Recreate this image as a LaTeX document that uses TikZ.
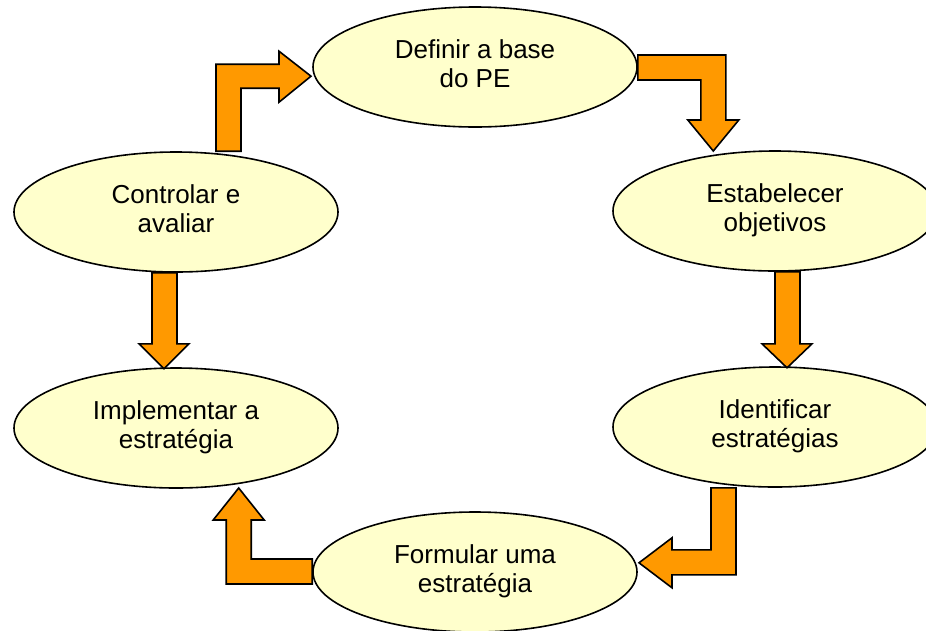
\documentclass[tikz,border=0pt]{standalone}
\usepackage{fontspec}
\setmainfont{Liberation Sans}
\usetikzlibrary{shapes.geometric,calc}
\definecolor{stagefill}{HTML}{FFFFCC}
\definecolor{flowfill}{HTML}{FF9900}
% uniform depth for the last line of every stage label
\newcommand\lastline{\rule[-7pt]{0pt}{0pt}}
\begin{document}
\begin{tikzpicture}[x=1pt,y=-1pt,
  stage/.style={ellipse, draw=black, line width=1.6pt, fill=stagefill,
    minimum width=324pt, minimum height=120pt, inner sep=0pt, align=center,
    font=\fontsize{26}{29}\selectfont},
  flow/.style={draw=black, line width=1.6pt, fill=flowfill, line join=miter}]
\useasboundingbox (0,0) rectangle (926,630);
\clip (0,0) rectangle (926,630);

% stages of the cycle
\node[stage] (def) at (475,67)  {Definir a base\\do PE\lastline};
\node[stage] (est) at (775,211) {Estabelecer\\objetivos\lastline};
\node[stage] (idf) at (775,427) {Identificar\\estratégias\lastline};
\node[stage] (frm) at (475,572) {Formular uma\\estratégia\lastline};
\node[stage] (imp) at (176,428) {Implementar a\\estratégia\lastline};
\node[stage] (ctl) at (176,212) {Controlar e\\avaliar\lastline};

% block arrows between stages
% controlar -> definir (bent up and right)
\draw[flow] ($(ctl.north)+(40,0)$) -- ++(0,-87) -- ++(63,0) -- ++(0,-13)
  -- ++(32,25) -- ++(-32,26) -- ++(0,-14) -- ++(-38,0) -- ++(0,63) -- cycle;
% definir -> estabelecer (bent right and down)
\draw[flow] ($(def.east)+(0,-12)$) -- ++(88,0) -- ++(0,65) -- ++(13,0)
  -- ++(-25.5,31) -- ++(-25.5,-31) -- ++(13,0) -- ++(0,-40) -- ++(-63,0) -- cycle;
% estabelecer -> identificar
\draw[flow] (est.south) -- ++(0,72) -- ++(-13,0) -- ++(25,24) -- ++(25,-24)
  -- ++(-12,0) -- ++(0,-72) -- cycle;
% identificar -> formular (bent down and left)
\draw[flow] ($(idf.south)+(-64,0)$) -- ++(25,0) -- ++(0,87) -- ++(-64,0)
  -- ++(0,13) -- ++(-33,-25) -- ++(33,-25) -- ++(0,12) -- ++(39,0) -- cycle;
% formular -> implementar (bent left and up)
\draw[flow] ($(frm.west)+(0,-13)$) -- ++(0,25) -- ++(-86,0) -- ++(0,-64)
  -- ++(-13,0) -- ++(25.5,-32) -- ++(25.5,32) -- ++(-13,0) -- ++(0,39) -- cycle;
% controlar -> implementar
\draw[flow] ($(ctl.south)+(-24,0)$) -- ++(0,71) -- ++(-13,0) -- ++(25,25)
  -- ++(25,-25) -- ++(-12,0) -- ++(0,-71) -- cycle;
\end{tikzpicture}
\end{document}
